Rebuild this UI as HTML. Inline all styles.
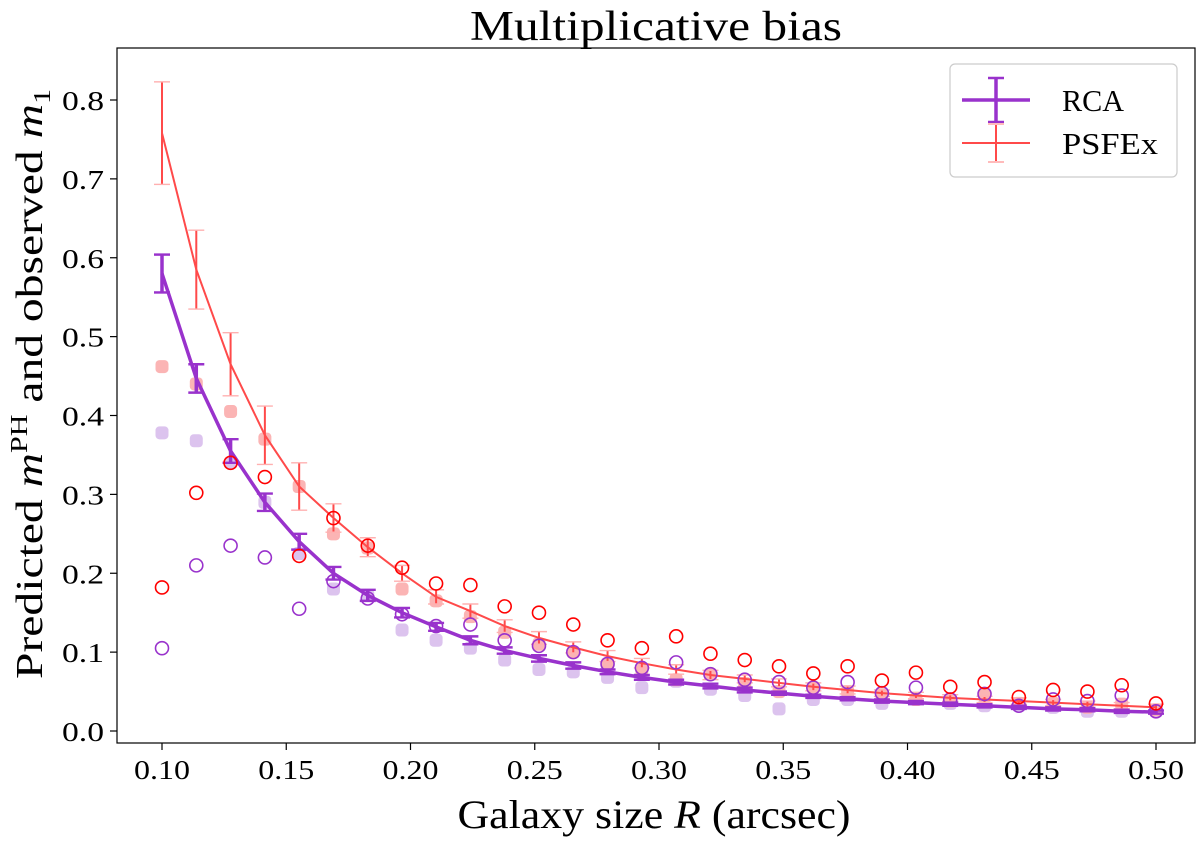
<!DOCTYPE html>
<html><head><meta charset="utf-8"><style>
body{margin:0;background:#fff}
svg text{font-family:"Liberation Serif",serif;fill:#000}
</style></head><body>
<svg id="c" width="1200" height="841" xmlns="http://www.w3.org/2000/svg"></svg>
<script>
const xs = [0.1,0.1138,0.1276,0.1414,0.1552,0.169,0.1828,0.1966,0.2103,0.2241,0.2379,0.2517,0.2655,0.2793,0.2931,0.3069,0.3207,0.3345,0.3483,0.3621,0.3759,0.3897,0.4034,0.4172,0.431,0.4448,0.4586,0.4724,0.4862,0.5];
const rcaPred = [0.58,0.447,0.355,0.29,0.24,0.2,0.172,0.15,0.132,0.115,0.102,0.092,0.083,0.075,0.068,0.062,0.057,0.052,0.048,0.044,0.041,0.038,0.036,0.034,0.032,0.030,0.028,0.027,0.025,0.024];
const rcaErr = [0.024,0.018,0.015,0.011,0.01,0.008,0.007,0.006,0.005,0.005,0.004,0.004,0.004,0.003,0.003,0.003,0.003,0.003,0.002,0.002,0.002,0.002,0.002,0.002,0.002,0.002,0.002,0.002,0.002,0.002];
const psfPred = [0.758,0.585,0.465,0.375,0.31,0.27,0.233,0.2,0.17,0.152,0.133,0.118,0.106,0.095,0.086,0.078,0.071,0.066,0.061,0.056,0.052,0.048,0.045,0.042,0.04,0.038,0.036,0.034,0.032,0.030];
const psfErr = [0.065,0.05,0.04,0.037,0.03,0.018,0.012,0.01,0.009,0.009,0.008,0.008,0.007,0.007,0.006,0.006,0.006,0.005,0.005,0.005,0.005,0.004,0.004,0.004,0.004,0.004,0.004,0.004,0.004,0.004];
const rcaObs = [0.105,0.21,0.235,0.22,0.155,0.19,0.168,0.148,0.133,0.135,0.115,0.108,0.1,0.085,0.08,0.087,0.072,0.065,0.062,0.055,0.062,0.048,0.055,0.04,0.047,0.032,0.04,0.038,0.045,0.025];
const psfObs = [0.182,0.302,0.34,0.322,0.222,0.27,0.235,0.207,0.187,0.185,0.158,0.15,0.135,0.115,0.105,0.12,0.098,0.09,0.082,0.073,0.082,0.064,0.074,0.056,0.062,0.043,0.052,0.05,0.058,0.035];
const psfFill = [0.462,0.44,0.405,0.37,0.31,0.25,0.232,0.18,0.165,0.145,0.125,0.11,0.1,0.085,0.078,0.065,0.072,0.06,0.05,0.055,0.05,0.046,0.04,0.038,0.045,0.035,0.035,0.03,0.034,0.027];
const rcaFill = [0.378,0.368,0.34,0.29,0.225,0.18,0.172,0.128,0.115,0.105,0.09,0.078,0.075,0.068,0.055,0.063,0.053,0.045,0.028,0.04,0.04,0.035,0.04,0.035,0.032,0.032,0.03,0.025,0.025,0.025];
const xTicks = [0.10,0.15,0.20,0.25,0.30,0.35,0.40,0.45,0.50];
const yTicks = [0.0,0.1,0.2,0.3,0.4,0.5,0.6,0.7,0.8];

const svg = document.getElementById('c');
const NS = 'http://www.w3.org/2000/svg';
const X = v => 162 + (v - 0.1) * 2485;
const Y = v => 731 - v * 788.75;
function mk(tag, attrs, parent){const e=document.createElementNS(NS,tag);for(const k in attrs)e.setAttribute(k,attrs[k]);(parent||svg).appendChild(e);return e;}

rcaFill.forEach((v,i)=>{const r=mk('rect',{x:X(xs[i])-6.5,y:Y(v)-6.5,width:13,height:13,rx:4,fill:'#dcc3ee'});

});
psfFill.forEach((v,i)=>{const r=mk('rect',{x:X(xs[i])-6.5,y:Y(v)-6.5,width:13,height:13,rx:4,fill:'#fbb4b4'});

});

function series(pred, err, color, capColor, w, cap, name){
  const d = pred.map((v,i)=>(i?'L':'M')+X(xs[i]).toFixed(1)+','+Y(v).toFixed(1)).join('');
  const p = mk('path',{d:d,fill:'none',stroke:color,'stroke-width':w});
  
  
  pred.forEach((v,i)=>{
    const x=X(xs[i]), y1=Y(v-err[i]), y2=Y(v+err[i]);
    const g=mk('g',{stroke:color,'stroke-width':w});
    
    
    mk('line',{x1:x,x2:x,y1:y1,y2:y2},g);
    mk('line',{x1:x-cap,x2:x+cap,y1:y1,y2:y1,'stroke-width':w*0.7,stroke:capColor},g);
    mk('line',{x1:x-cap,x2:x+cap,y1:y2,y2:y2,'stroke-width':w*0.7,stroke:capColor},g);
  });
}
series(psfPred, psfErr, '#ff4a4a', '#ffb0b0', 2, 8, 'psfex');
series(rcaPred, rcaErr, '#9932cc', '#9932cc', 3.5, 8, 'rca');

rcaObs.forEach((v,i)=>{const c=mk('circle',{cx:X(xs[i]),cy:Y(v),r:6.5,fill:'none',stroke:'#9932cc','stroke-width':1.6});

});
psfObs.forEach((v,i)=>{const c=mk('circle',{cx:X(xs[i]),cy:Y(v),r:6.5,fill:'none',stroke:'#ff0000','stroke-width':1.6});

});

const f=mk('rect',{x:117,y:48,width:1078,height:695,fill:'none',stroke:'#000','stroke-width':1.2});


xTicks.forEach(t=>{mk('line',{x1:X(t),x2:X(t),y1:743,y2:750,stroke:'#000','stroke-width':1.2});
const tx=mk('text',{x:X(t),y:779,'text-anchor':'middle','font-size':27,textLength:56,lengthAdjust:'spacingAndGlyphs'});tx.textContent=t.toFixed(2);

});
yTicks.forEach(t=>{mk('line',{x1:110,x2:117,y1:Y(t),y2:Y(t),stroke:'#000','stroke-width':1.2});
const tx=mk('text',{x:104,y:Y(t)+10,'text-anchor':'end','font-size':27,textLength:42,lengthAdjust:'spacingAndGlyphs'});tx.textContent=t.toFixed(1);

});
</script>
<svg style="position:absolute;left:0;top:0" width="1200" height="841" xmlns="http://www.w3.org/2000/svg">
<text x="656" y="40" text-anchor="middle" font-size="42" textLength="372" lengthAdjust="spacingAndGlyphs">Multiplicative bias</text>
<text x="654" y="828" text-anchor="middle" font-size="40" textLength="393" lengthAdjust="spacingAndGlyphs">Galaxy size <tspan font-style="italic">R</tspan> (arcsec)</text>
<text transform="translate(42,384) rotate(-90)" text-anchor="middle" font-size="38" textLength="590" lengthAdjust="spacingAndGlyphs">Predicted <tspan font-style="italic">m</tspan><tspan font-size="24" dy="-15">PH</tspan><tspan dy="15"> and observed </tspan><tspan font-style="italic">m</tspan><tspan font-size="24" dy="8">1</tspan></text>
<g>
<rect x="950" y="64" width="227" height="113" rx="5" fill="#fff" stroke="#ccc" stroke-width="1.2"/>
<g stroke="#9932cc" stroke-width="3.5">
<line x1="962" x2="1030" y1="100" y2="100"/><line x1="996" x2="996" y1="78" y2="122"/>
<line x1="988" x2="1004" y1="78" y2="78" stroke-width="2.5"/><line x1="988" x2="1004" y1="122" y2="122" stroke-width="2.5"/></g>
<text x="1062" y="111" font-size="31" textLength="62" lengthAdjust="spacingAndGlyphs">RCA</text>
<g stroke="#ff4a4a" stroke-width="2">
<line x1="962" x2="1030" y1="143" y2="143"/><line x1="996" x2="996" y1="124" y2="162"/>
<line x1="988" x2="1004" y1="124" y2="124" stroke="#fbb"/><line x1="988" x2="1004" y1="162" y2="162" stroke="#fbb"/></g>
<text x="1062" y="154" font-size="31" textLength="96" lengthAdjust="spacingAndGlyphs">PSFEx</text>
</g>
</svg>
</body></html>
